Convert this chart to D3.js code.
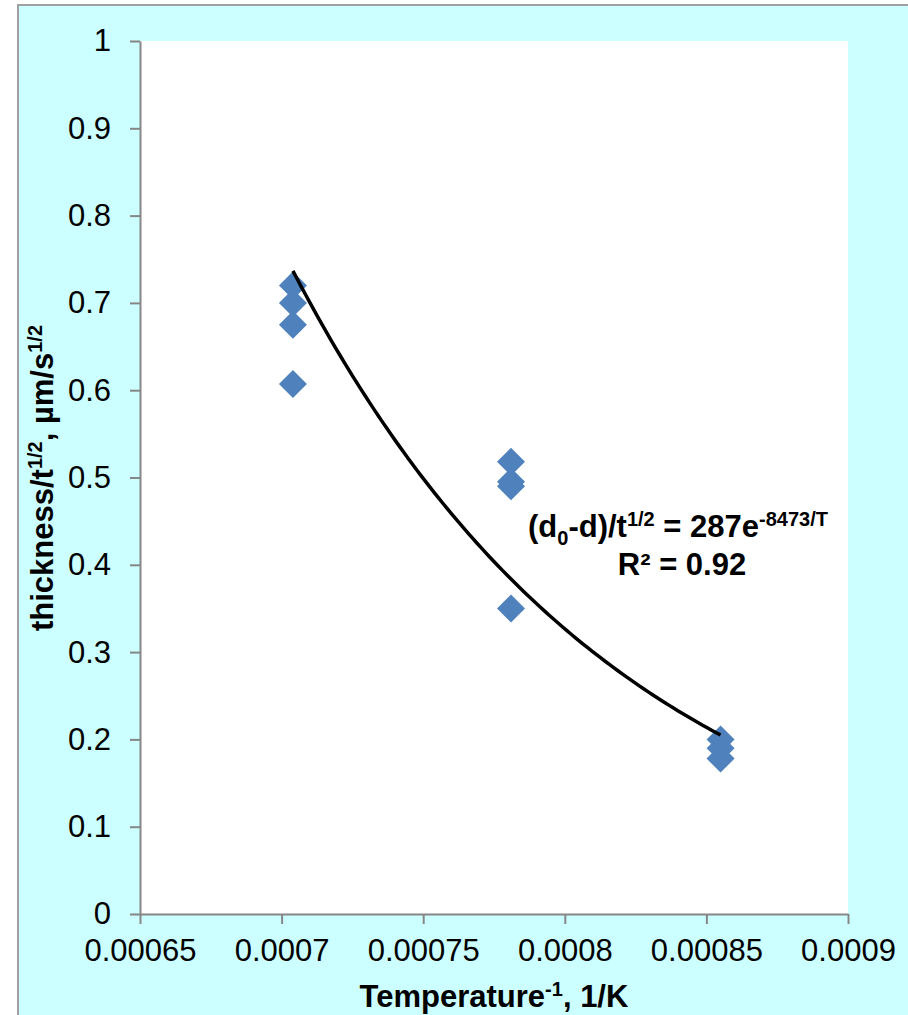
<!DOCTYPE html>
<html lang="en">
<head>
    <meta charset="UTF-8">
    <title>Thickness rate vs inverse temperature</title>
    <style>
        body { margin: 0; background: #fff; }
        svg { display: block; font-family: "Liberation Sans", Arial, sans-serif; }
        .axis path, .axis line { stroke: #868686; stroke-width: 2px; }
        .axis text { fill: #000; font-size: 31px; }
    </style>
</head>
<body>
    <svg width="908" height="1015"></svg>
    <script src="https://d3js.org/d3.v7.min.js"></script>
    <script>
        // measured points (1/T, thickness/t^1/2)
        var invTemp = [0.000704, 0.000704, 0.000704, 0.000704,
                       0.000781, 0.000781, 0.000781, 0.000781,
                       0.000855, 0.000855, 0.000855];
        var rate = [0.72, 0.70, 0.675, 0.607,
                    0.518, 0.495, 0.49, 0.35,
                    0.20, 0.19, 0.178];
        var xTicks = [0.00065, 0.0007, 0.00075, 0.0008, 0.00085, 0.0009];
        var yTicks = [0, 0.1, 0.2, 0.3, 0.4, 0.5, 0.6, 0.7, 0.8, 0.9, 1];
        // exponential trendline shown on the chart
        var fitA = 287, fitB = 8473;

        var svg = d3.select("svg");
        var plotL = 140, plotR = 848, plotT = 41, plotB = 914;

        // chart background + frame
        svg.append("rect")
            .attr("x", 18).attr("y", 5)
            .attr("width", 908).attr("height", 1030)
            .style("fill", "#ccffff")
            .style("stroke", "#a0a0a0")
            .style("stroke-width", 2);

        svg.append("rect")
            .attr("x", plotL).attr("y", plotT)
            .attr("width", plotR - plotL).attr("height", plotB - plotT)
            .style("fill", "#fff");

        var x = d3.scaleLinear().domain([0.00065, 0.0009]).range([plotL, plotR]);
        var y = d3.scaleLinear().domain([0, 1]).range([plotB, plotT]);

        svg.append("g")
            .attr("class", "axis")
            .attr("transform", "translate(0," + plotB + ")")
            .call(d3.axisBottom(x).tickValues(xTicks).tickSize(10).tickSizeOuter(0)
                .tickPadding(15).tickFormat(d => String(+d.toPrecision(6))));

        svg.append("g")
            .attr("class", "axis")
            .attr("transform", "translate(" + plotL + ",0)")
            .call(d3.axisLeft(y).tickValues(yTicks).tickSize(10).tickSizeOuter(0)
                .tickPadding(19).tickFormat(d => String(+d.toFixed(1))));

        // diamonds
        svg.selectAll(".pt")
            .data(invTemp)
            .enter()
            .append("path")
            .attr("class", "pt")
            .attr("transform", (d, i) => "translate(" + x(d) + "," + y(rate[i]) + ")")
            .attr("d", "M0,-14L14,0L0,14L-14,0Z")
            .style("fill", "#4f81bd");

        // trendline (drawn over the markers)
        var fitX = d3.range(0, 101).map(i => invTemp[0] + (invTemp[invTemp.length - 1] - invTemp[0]) * i / 100);
        svg.append("path")
            .datum(fitX)
            .attr("d", d3.line().x(d => x(d)).y(d => y(fitA * Math.exp(-fitB * d))))
            .style("fill", "none")
            .style("stroke", "#000")
            .style("stroke-width", 3.5);

        // equation label
        var eq = svg.append("text")
            .attr("x", 678).attr("y", 537)
            .style("text-anchor", "middle")
            .style("font-weight", "bold")
            .style("font-size", "31px");
        eq.append("tspan").text("(d");
        eq.append("tspan").attr("dy", 8).style("font-size", "20px").text("0");
        eq.append("tspan").attr("dy", -8).text("-d)/t");
        eq.append("tspan").attr("dy", -11).style("font-size", "20px").text("1/2");
        eq.append("tspan").attr("dy", 11).text(" = 287e");
        eq.append("tspan").attr("dy", -11).style("font-size", "20px").text("-8473/T");

        svg.append("text")
            .attr("x", 682).attr("y", 575)
            .style("text-anchor", "middle")
            .style("font-weight", "bold")
            .style("font-size", "31px")
            .text("R² = 0.92");

        // axis titles
        var xt = svg.append("text")
            .attr("x", 494).attr("y", 1007)
            .style("text-anchor", "middle")
            .style("font-weight", "bold")
            .style("font-size", "31px");
        xt.append("tspan").text("Temperature");
        xt.append("tspan").attr("dy", -11).style("font-size", "20px").text("-1");
        xt.append("tspan").attr("dy", 11).text(", 1/K");

        var yt = svg.append("text")
            .attr("transform", "translate(53,478) rotate(-90)")
            .style("text-anchor", "middle")
            .style("font-weight", "bold")
            .style("font-size", "31px");
        yt.append("tspan").text("thickness/t");
        yt.append("tspan").attr("dy", -11).style("font-size", "20px").text("1/2");
        yt.append("tspan").attr("dy", 11).text(",   µm/s");
        yt.append("tspan").attr("dy", -11).style("font-size", "20px").text("1/2");
    </script>
</body>
</html>
